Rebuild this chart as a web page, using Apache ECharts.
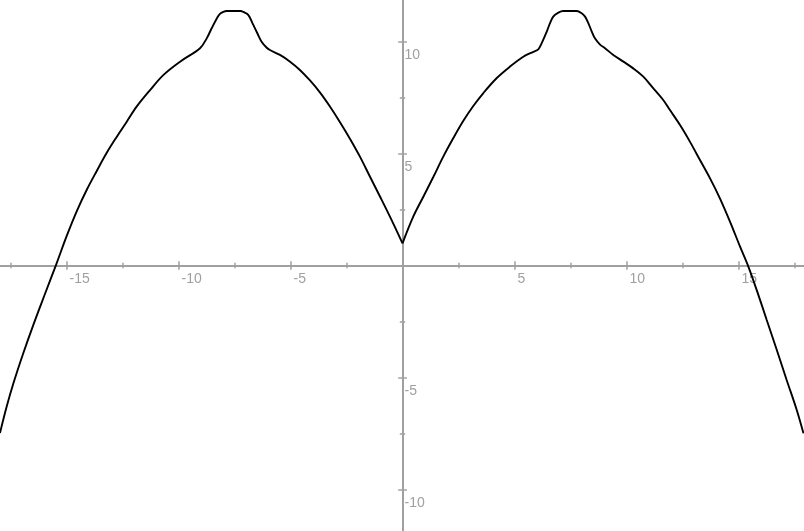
<!DOCTYPE html>
<html>
<head>
<meta charset="utf-8">
<script src="https://cdn.jsdelivr.net/npm/echarts@6/dist/echarts.min.js"></script>
<style>
html,body{margin:0;padding:0;background:#fff;}
#chart{width:804px;height:531px;}
</style>
</head>
<body>
<div id="chart"></div>
<script>
// Left branch of the curve (x <= 0)
var leftX = [-17.97,-17.67,-17.37,-16.93,-16.48,-15.95,-15.47,-14.99,-14.54,-14.10,-13.65,-13.21,-12.76,-12.31,-11.87,-11.27,-10.68,-9.93,-9.04,-8.74,-8.52,-8.29,-8.15,-8.00,-7.85,-7.22,-7.11,-6.88,-6.66,-6.48,-6.29,-6.06,-5.92,-5.47,-5.02,-4.58,-4.13,-3.68,-3.24,-2.79,-2.34,-1.90,-1.45,-1.00,-0.56,0];
var leftY = [-7.48,-6.30,-5.26,-3.92,-2.65,-1.24,0.02,1.32,2.43,3.37,4.22,5.02,5.74,6.42,7.09,7.83,8.50,9.10,9.70,10.14,10.59,11.03,11.23,11.32,11.36,11.36,11.32,11.18,10.74,10.37,9.99,9.72,9.62,9.40,9.10,8.73,8.26,7.72,7.10,6.40,5.65,4.86,3.96,3.07,2.18,0.99];
// Right branch of the curve (x >= 0)
var rightX = [0,0.48,0.93,1.38,1.82,2.27,2.71,3.16,3.61,4.21,4.80,5.39,5.84,6.06,6.21,6.44,6.58,6.73,6.96,7.18,7.78,8.00,8.15,8.30,8.45,8.59,8.82,9.04,9.41,9.86,10.30,10.75,11.20,11.64,11.94,12.39,12.83,13.28,13.73,14.17,14.62,15.07,15.44,15.81,16.26,16.71,17.15,17.60,17.90];
var rightY = [0.99,2.18,3.07,3.96,4.86,5.69,6.45,7.12,7.70,8.37,8.88,9.32,9.54,9.65,9.92,10.44,10.81,11.11,11.29,11.36,11.36,11.26,11.11,10.81,10.44,10.14,9.86,9.70,9.40,9.10,8.80,8.43,7.91,7.39,6.94,6.27,5.53,4.71,3.89,3.00,1.96,0.84,-0.05,-1.09,-2.43,-3.77,-5.11,-6.45,-7.49];
// Axis ticks / labels
var tickStep = 5;
var xRange = [-20, 20];
var yRange = [-15, 15];

function pairs(xs, ys){ return xs.map(function(x,i){ return [x, ys[i]]; }); }

var axisGray = '#a0a0a0';
var labelGray = '#a0a0a0';
var fontFam = 'Liberation Sans, Arial, sans-serif';

function fmt(v){ return v === 0 ? '' : String(v); }

function xAx(pos, showLabel){
  return {
    type:'value', position:pos, min:xRange[0], max:xRange[1], interval:tickStep,
    offset:-336,
    axisLine:{show:showLabel, onZero:false, lineStyle:{color:axisGray, width:2}},
    axisTick:{show:true, length:4.3, lineStyle:{color:axisGray, width:1.5}},
    minorTick:{show:true, splitNumber:2, length:2.7, lineStyle:{color:axisGray, width:1.5}},
    axisLabel:{show:showLabel, formatter:fmt, color:labelGray, fontSize:14, fontFamily:fontFam,
      align:'left', margin:7, padding:[0,0,0,3]},
    splitLine:{show:false}
  };
}
function yAx(pos, showLabel){
  return {
    type:'value', position:pos, min:yRange[0], max:yRange[1], interval:tickStep,
    offset:-448,
    axisLine:{show:showLabel, onZero:false, lineStyle:{color:axisGray, width:2}},
    axisTick:{show:true, length:4.3, lineStyle:{color:axisGray, width:1.5}},
    minorTick:{show:true, splitNumber:2, length:2.7, lineStyle:{color:axisGray, width:1.5}},
    axisLabel:{show:showLabel, inside:true, formatter:fmt, color:labelGray, fontSize:14, fontFamily:fontFam,
      align:'left', verticalAlign:'top', margin:2, padding:[7,0,0,0]},
    splitLine:{show:false}
  };
}

var chart = echarts.init(document.getElementById('chart'), null, {renderer:'canvas'});
chart.setOption({
  animation:false,
  backgroundColor:'#ffffff',
  grid:{left:-45.5, right:-46.5, top:-70.5, bottom:-70.5, containLabel:false, outerBoundsMode:'none'},
  xAxis:[xAx('bottom', true), xAx('top', false)],
  yAxis:[yAx('left', true), yAx('right', false)],
  series:[
    {type:'line', xAxisIndex:0, yAxisIndex:0, data:pairs(leftX, leftY), showSymbol:false, smooth:0.35,
      lineStyle:{color:'#000', width:1.9}, z:5},
    {type:'line', xAxisIndex:0, yAxisIndex:0, data:pairs(rightX, rightY), showSymbol:false, smooth:0.35,
      lineStyle:{color:'#000', width:1.9}, z:5}
  ]
});
</script>
</body>
</html>
